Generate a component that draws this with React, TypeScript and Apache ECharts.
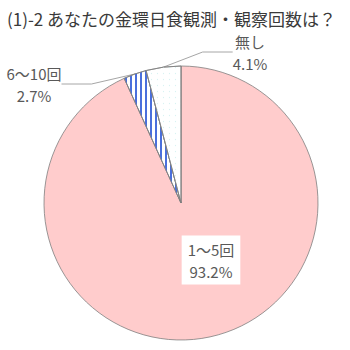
import React, { useEffect, useRef } from "react";
import * as echarts from "echarts";

const titleText = "(1)-2 あなたの金環日食観測・観察回数は？";
const categories = ["1～5回", "6～10回", "無し"];
const values = [93.2, 2.7, 4.1];

export default function App() {
  const ref = useRef<HTMLDivElement>(null);
  useEffect(() => {
    if (!ref.current) return;
    const chart = echarts.init(ref.current, null, { renderer: "svg" });
    const labelFont = "'Noto Sans CJK JP', 'Noto Sans', sans-serif";
    const baseLabel = {
      color: "#595959",
      fontSize: 15,
      lineHeight: 22,
      fontFamily: labelFont,
      formatter: "{b}\n{c}%",
    };
    chart.setOption({
      animation: false,
      backgroundColor: "#ffffff",
      title: {
        text: titleText,
        left: 2,
        top: 5,
        textStyle: {
          fontSize: 17,
          fontWeight: "normal",
          color: "#3a3a3a",
          fontFamily: labelFont,
        },
      },
      series: [
        {
          type: "pie",
          center: [181, 203],
          radius: 137,
          startAngle: 90,
          clockwise: true,
          avoidLabelOverlap: false,
          itemStyle: { borderColor: "#7f7f7f", borderWidth: 0.8 },
          labelLine: {
            show: true,
            lineStyle: { color: "#a6a6a6", width: 1 },
          },
          labelLayout: (p: any) => {
            if (p.dataIndex === 0)
              return { x: 211, y: 260, align: "center", verticalAlign: "middle" };
            if (p.dataIndex === 1)
              return { x: 34, y: 84, align: "center", verticalAlign: "middle" };
            return { x: 250, y: 52, align: "center", verticalAlign: "middle" };
          },
          data: categories.map((name, i) => {
            const item: any = { name, value: values[i] };
            if (i === 0) {
              item.itemStyle = { color: "#ffcccc" };
              item.label = {
                ...baseLabel,
                position: "inside",
                backgroundColor: "#ffffff",
                padding: [3, 6, 2, 6],
              };
              item.labelLine = { show: false };
            } else if (i === 1) {
              item.itemStyle = {
                color: "#ffffff",
                decal: {
                  symbol: "rect",
                  symbolSize: 1,
                  color: "#4a6fdc",
                  backgroundColor: "#ffffff",
                  dashArrayX: [1.5, 2.5],
                  dashArrayY: [1, 0],
                  rotation: 0,
                },
              };
              item.label = { ...baseLabel, position: "outside" };
            } else {
              item.itemStyle = {
                color: "#ffffff",
                decal: {
                  symbol: "circle",
                  symbolSize: 0.4,
                  color: "#d8f2f2",
                  backgroundColor: "#ffffff",
                  dashArrayX: [3, 3],
                  dashArrayY: [3, 3],
                  rotation: 0,
                },
              };
              item.label = { ...baseLabel, position: "outside" };
            }
            return item;
          }),
        },
      ],
    });
    return () => chart.dispose();
  }, []);
  return (
    <div
      ref={ref}
      style={{ position: "fixed", left: 0, top: 0, width: 350, height: 350 }}
    />
  );
}
